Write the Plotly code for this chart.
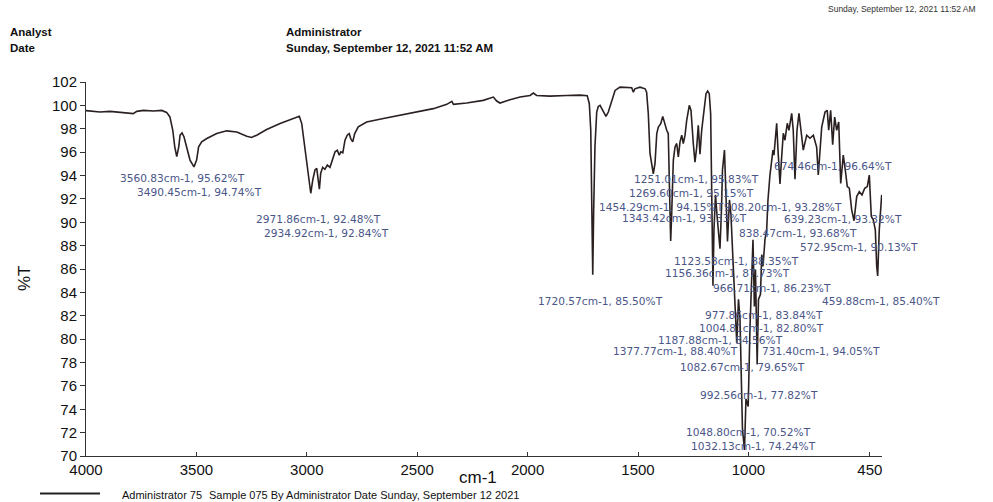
import plotly.graph_objects as go

# ---------------- data ----------------
wavenumber = [
    4000, 3936.6, 3891, 3846, 3801, 3786, 3770, 3740, 3695, 3657,
    3635, 3620, 3607, 3598, 3589, 3580, 3574, 3565, 3556, 3544,
    3529, 3511, 3499, 3490, 3476, 3453, 3408, 3363, 3317, 3272,
    3250, 3227, 3182, 3121, 3061, 3034, 3023, 3013, 3000, 2989,
    2982, 2973, 2963, 2955, 2948, 2943, 2937, 2928, 2918, 2907,
    2895, 2883, 2872, 2862, 2853, 2846, 2837, 2827, 2817, 2808,
    2801, 2792, 2783, 2767, 2729, 2653, 2578, 2502, 2427, 2366,
    2343, 2336, 2276, 2201, 2155, 2140, 2125, 2080, 2034,
    1989, 1974, 1959, 1899, 1823, 1763, 1730, 1720.5, 1714, 1710,
    1705, 1701, 1695, 1687, 1680, 1672, 1664, 1654, 1645, 1634.5,
    1619, 1604, 1581.5, 1551, 1528.5, 1521, 1514, 1491, 1468, 1461,
    1453.4, 1445.7, 1438, 1430.7, 1423, 1415, 1408, 1397, 1388, 1382,
    1370, 1363, 1355, 1352, 1347.4, 1340, 1332.4, 1324.7, 1317.5, 1309.8,
    1302, 1295, 1287, 1279.5, 1267.7, 1260, 1249.6, 1242, 1234, 1227,
    1219.4, 1211.6, 1201, 1192, 1184.5, 1177.3, 1171, 1165, 1160.5, 1156,
    1149, 1142.4, 1128.8, 1122, 1117.5, 1108.4, 1094.8, 1085.8, 1079, 1070,
    1052.7, 1045, 1038, 1027, 1017.8, 1011, 1001, 993, 986, 979.3,
    973, 968, 960.3, 954.4, 945.4, 939.5, 934, 925, 917.3, 911.4,
    902.4, 894.7, 888.8, 884.3, 872, 866, 857, 850.3, 842, 834.5,
    824, 816.4, 804, 797, 789, 780, 771, 762, 751.6, 736,
    721, 706, 691, 683.6, 668, 653, 643, 636.5, 627.5, 618.4,
    609.3, 600.3, 591, 582, 570.4, 561.3, 552.2, 543, 532.3, 521.8,
    509.6, 497.8, 485.5, 473.3, 461.5, 452.5, 443.4, 434.4, 425.3, 419,
    414.5, 407.3, 396.4,
]
transmittance = [
    99.55, 99.43, 99.49, 99.40, 99.35, 99.29, 99.49, 99.57, 99.52, 99.57,
    99.40, 99.01, 97.87, 96.45, 95.62, 96.45, 97.45, 97.65, 97.30, 96.45,
    95.32, 94.74, 95.32, 96.45, 96.88, 97.16, 97.59, 97.82, 97.73, 97.36,
    97.25, 97.45, 97.93, 98.44, 98.87, 99.06, 98.44, 97.02, 95.32, 93.62,
    92.48, 93.62, 94.47, 94.61, 93.62, 92.84, 94.19, 94.70, 94.53, 94.89,
    94.70, 95.32, 96.03, 96.17, 95.74, 96.03, 95.94, 97.02, 97.45, 97.59,
    97.16, 96.88, 97.59, 98.16, 98.58, 98.87, 99.15, 99.43, 99.72, 100.09,
    100.34, 100.09, 100.20, 100.43, 100.71, 100.37, 100.20, 100.48, 100.71,
    100.85, 101.05, 100.85, 100.79, 100.85, 100.88, 100.83, 100.14, 97.87, 90.81,
    85.50, 90.81, 96.45, 99.43, 99.91, 100.0, 99.72, 99.29, 99.06, 99.43,
    100.43, 101.28, 101.56, 101.51, 101.51, 101.13, 101.42, 101.56, 101.42, 101.13,
    99.29, 95.89, 94.75, 94.15, 95.04, 97.59, 98.15, 98.44, 99.06, 98.58,
    97.87, 97.59, 90.21, 88.40, 90.78, 95.32, 96.45, 96.74, 95.60, 96.88,
    97.45, 96.74, 97.45, 98.72, 100.0, 99.57, 96.74, 95.15, 96.45, 98.30,
    95.83, 97.87, 99.57, 101.0, 101.22, 101.0, 99.29, 90.78, 84.56, 89.36,
    92.34, 90.64, 87.73, 91.06, 94.47, 96.17, 88.35, 91.91, 90.64, 86.81,
    79.65, 83.40, 81.70, 72.34, 70.52, 74.89, 74.24, 80.85, 84.25, 88.51,
    82.80, 85.96, 77.82, 83.40, 83.84, 87.23, 86.23, 88.51, 89.36, 91.91,
    94.04, 95.57, 96.17, 95.74, 98.47, 96.17, 93.28, 95.32, 97.62, 97.02,
    98.47, 97.87, 99.32, 97.87, 93.68, 97.87, 99.32, 97.87, 96.17, 97.45,
    97.19, 97.45, 96.43, 94.05, 98.15, 99.43, 99.57, 97.87, 99.57, 96.64,
    99.0, 97.87, 98.58, 93.32, 95.74, 94.47, 93.05, 92.91, 91.06, 90.13,
    92.20, 92.62, 92.34, 92.91, 93.05, 94.04, 90.49, 90.21, 89.36, 86.24,
    85.40, 89.36, 92.34,
]
assert len(wavenumber) == len(transmittance)

x_tick_values = [4000, 3500, 3000, 2500, 2000, 1500, 1000, 450]
y_tick_values = list(range(70, 103, 2))

peak_labels = [
    "3560.83cm-1, 95.62%T", "3490.45cm-1, 94.74%T",
    "2971.86cm-1, 92.48%T", "2934.92cm-1, 92.84%T",
    "1251.01cm-1, 95.83%T", "1269.60cm-1, 95.15%T",
    "1454.29cm-1, 94.15%T", "908.20cm-1, 93.28%T",
    "1343.42cm-1, 93.33%T", "674.46cm-1, 96.64%T",
    "639.23cm-1, 93.32%T", "838.47cm-1, 93.68%T",
    "572.95cm-1, 90.13%T", "1123.58cm-1, 88.35%T",
    "1156.36cm-1, 87.73%T", "966.71cm-1, 86.23%T",
    "1720.57cm-1, 85.50%T", "459.88cm-1, 85.40%T",
    "977.86cm-1, 83.84%T", "1004.81cm-1, 82.80%T",
    "1187.88cm-1, 84.56%T", "1377.77cm-1, 88.40%T",
    "731.40cm-1, 94.05%T", "1082.67cm-1, 79.65%T",
    "992.56cm-1, 77.82%T", "1048.80cm-1, 70.52%T",
    "1032.13cm-1, 74.24%T",
]
# where each label's left edge sits (axis units)
label_wn = [
    3855, 3778, 3239, 3203, 1526, 1549, 1686, 1120, 1582, 895,
    849, 1050, 777, 1347, 1385, 1169, 1962, 676, 1207, 1234,
    1418, 1624, 948, 1320, 1227, 1292, 1269,
]
label_t = [
    93.79, 92.60, 90.30, 89.11, 93.70, 92.54, 91.28, 91.28, 90.38, 94.83,
    90.30, 89.11, 87.91, 86.66, 85.68, 84.34, 83.23, 83.23, 82.07, 80.94,
    79.91, 78.95, 78.95, 77.59, 75.26, 72.06, 70.83,
]

# ---------------- figure ----------------
fig = go.Figure()
fig.add_trace(go.Scatter(
    x=wavenumber, y=transmittance, mode="lines",
    line=dict(color="#2a2020", width=1.6),
    name="Administrator 75", showlegend=False, hoverinfo="x+y",
))

label_font = dict(family="DejaVu Sans, Verdana, sans-serif", size=10.6, color="#4a5688")
for txt, lx, ly in zip(peak_labels, label_wn, label_t):
    fig.add_annotation(x=lx, y=ly, xref="x", yref="y", text=txt, showarrow=False,
                       xanchor="left", yanchor="middle", font=label_font)

hdr = dict(family="Liberation Sans, Arial, sans-serif", size=11.5, color="#111111")
fig.add_annotation(x=-0.098, y=1.1347, xref="paper", yref="paper", text="<b>Analyst</b>",
                   showarrow=False, xanchor="left", yanchor="middle", font=hdr)
fig.add_annotation(x=-0.098, y=1.092, xref="paper", yref="paper", text="<b>Date</b>",
                   showarrow=False, xanchor="left", yanchor="middle", font=hdr)
fig.add_annotation(x=0.2487, y=1.1347, xref="paper", yref="paper", text="<b>Administrator</b>",
                   showarrow=False, xanchor="left", yanchor="middle", font=hdr)
fig.add_annotation(x=0.2487, y=1.092, xref="paper", yref="paper",
                   text="<b>Sunday, September 12, 2021 11:52 AM</b>",
                   showarrow=False, xanchor="left", yanchor="middle", font=hdr)
fig.add_annotation(x=1.1206, y=1.196, xref="paper", yref="paper",
                   text="Sunday, September 12, 2021 11:52 AM", showarrow=False,
                   xanchor="right", yanchor="middle",
                   font=dict(family="Liberation Sans, Arial, sans-serif", size=8.5, color="#333333"))

# axis titles
fig.add_annotation(x=0.4925, y=-0.0573, xref="paper", yref="paper", text="cm-1",
                   showarrow=False, xanchor="center", yanchor="middle",
                   font=dict(family="Liberation Sans, Arial, sans-serif", size=17, color="#111111"))
fig.add_annotation(x=-0.0766, y=0.476, xref="paper", yref="paper", text="%T",
                   showarrow=False, xanchor="center", yanchor="middle", textangle=-90,
                   font=dict(family="Liberation Sans, Arial, sans-serif", size=17, color="#111111"))

# bottom legend line + text
fig.add_shape(type="line", xref="paper", yref="paper", x0=-0.0578, x1=0.0176,
              y0=-0.1, y1=-0.1, line=dict(color="#222222", width=2))
foot = dict(family="Liberation Sans, Arial, sans-serif", size=11, color="#111111")
fig.add_annotation(x=0.0427, y=-0.104, xref="paper", yref="paper", text="Administrator 75",
                   showarrow=False, xanchor="left", yanchor="middle", font=foot)
fig.add_annotation(x=0.1520, y=-0.104, xref="paper", yref="paper",
                   text="Sample 075 By Administrator Date Sunday, September 12 2021",
                   showarrow=False, xanchor="left", yanchor="middle", font=foot)

tick_font = dict(family="Liberation Sans, Arial, sans-serif", size=15, color="#111111")
fig.update_xaxes(range=[4000, 395], tickmode="array", tickvals=x_tick_values,
                 ticks="inside", ticklen=4, tickcolor="#333333", showline=True,
                 linecolor="#333333", linewidth=1, showgrid=False, zeroline=False,
                 tickfont=tick_font)
fig.update_yaxes(range=[70, 102], tickmode="array", tickvals=y_tick_values,
                 ticks="outside", ticklen=5, tickcolor="#333333", showline=True,
                 linecolor="#333333", linewidth=1, showgrid=False, zeroline=False,
                 tickfont=tick_font)

fig.update_layout(width=993, height=502,
                  margin=dict(l=86, r=111, t=81.5, b=45.5),
                  paper_bgcolor="white", plot_bgcolor="white",
                  font=dict(family="Liberation Sans, Arial, sans-serif"))

fig.write_html("out.html", config={"displayModeBar": False},
               post_script="document.body.style.margin='0px';document.body.style.overflow='hidden';")
